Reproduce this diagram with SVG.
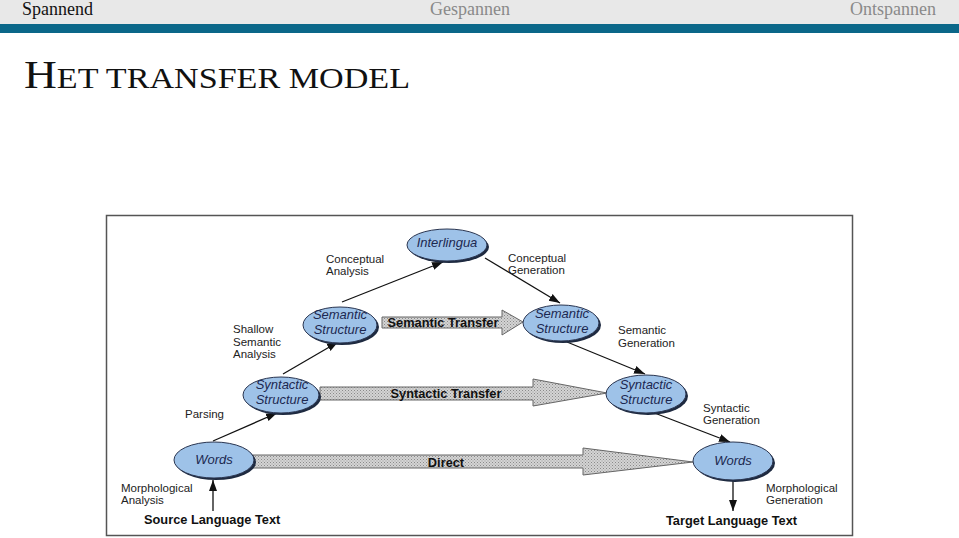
<svg xmlns="http://www.w3.org/2000/svg" width="959" height="538" viewBox="0 0 959 538">
<defs>
<pattern id="hatch" width="3" height="3" patternUnits="userSpaceOnUse">
<rect width="3" height="3" fill="#d4d4d4"/>
<rect width="1" height="1" fill="#8a8a8a"/>
<rect x="1.5" y="1.5" width="1" height="1" fill="#9a9a9a"/>
</pattern>
<marker id="arr" markerWidth="12" markerHeight="10" refX="11" refY="5" orient="auto" markerUnits="userSpaceOnUse">
<path d="M0,1 L11,5 L0,9 Z" fill="#111"/>
</marker>
</defs>
<style>
.hdr{font-family:"Liberation Serif",serif;font-size:18px}
.ttl{font-family:"Liberation Serif",serif;fill:#111}
.node ellipse.sh{fill:#1e2a40}
.node ellipse.fg{fill:#9ec2e8;stroke:#2a3550;stroke-width:1}
.node text{font-family:"Liberation Sans",Arial,sans-serif;font-style:italic;font-size:13px;fill:#1c2850;text-anchor:middle}
.lbl{font-family:"Liberation Sans",Arial,sans-serif;font-size:11.5px;fill:#222}
.bl{font-family:"Liberation Sans",Arial,sans-serif;font-size:12.8px;font-weight:bold;fill:#111}
.blk{fill:url(#hatch);stroke:#666;stroke-width:1}
.con{stroke:#111;stroke-width:1.3;fill:none;marker-end:url(#arr)}
</style>
<rect x="0" y="0" width="959" height="538" fill="#fff"/>
<rect x="0" y="0" width="959" height="24" fill="#e8e8e8"/>
<rect x="0" y="24" width="959" height="9" fill="#0b6789"/>
<text class="hdr" x="22" y="15" fill="#111">Spannend</text>
<text class="hdr" x="470" y="15" fill="#8a8a8a" text-anchor="middle">Gespannen</text>
<text class="hdr" x="936" y="15" fill="#8a8a8a" text-anchor="end">Ontspannen</text>
<text class="ttl" x="24" y="88" textLength="386" lengthAdjust="spacingAndGlyphs"><tspan font-size="40">H</tspan><tspan font-size="30">ET TRANSFER MODEL</tspan></text>

<rect x="106.5" y="215.5" width="746" height="320" fill="#fff" stroke="#555" stroke-width="1.5"/>

<g id="connectors">
<polygon class="blk" points="382,317 502,317 502,310 523,322 502,335 502,328 382,328"/>
<polygon class="blk" points="320,387 533,387 533,379 607,393 533,406 533,400 320,400"/>
<polygon class="blk" points="253,455 583,455 583,448 693,462 583,475 583,468 253,468"/>
<line class="con" x1="342" y1="302" x2="443" y2="262"/>
<line class="con" x1="485" y1="258" x2="560" y2="303"/>
<line class="con" x1="283" y1="374" x2="338" y2="342"/>
<line class="con" x1="567" y1="342" x2="645" y2="374"/>
<line class="con" x1="213" y1="441" x2="277" y2="413"/>
<line class="con" x1="652" y1="412" x2="730" y2="442"/>
<line class="con" x1="213" y1="511" x2="213" y2="480"/>
<line class="con" x1="733" y1="480" x2="733" y2="511"/>
</g>

<text class="bl" x="443" y="327" text-anchor="middle">Semantic Transfer</text>
<text class="bl" x="446" y="398" text-anchor="middle">Syntactic Transfer</text>
<text class="bl" x="446" y="467" text-anchor="middle">Direct</text>

<g id="interlingua" class="node">
<ellipse class="sh" cx="449" cy="247" rx="40" ry="16"/>
<ellipse class="fg" cx="447" cy="245" rx="40" ry="16"/>
<text x="447" y="247">Interlingua</text>
</g>
<g id="sem-src" class="node">
<ellipse class="sh" cx="342" cy="327" rx="37" ry="18"/>
<ellipse class="fg" cx="340" cy="325" rx="37" ry="18"/>
<text x="340" y="319">Semantic</text>
<text x="340" y="334">Structure</text>
</g>
<g id="syn-src" class="node">
<ellipse class="sh" cx="283" cy="397" rx="38" ry="18"/>
<ellipse class="fg" cx="281" cy="395" rx="38" ry="18"/>
<text x="282" y="389">Syntactic</text>
<text x="282" y="404">Structure</text>
</g>
<g id="words-src" class="node">
<ellipse class="sh" cx="216" cy="462" rx="40" ry="18"/>
<ellipse class="fg" cx="214" cy="460" rx="40" ry="18"/>
<text x="214" y="464">Words</text>
</g>
<g id="sem-tgt" class="node">
<ellipse class="sh" cx="563" cy="325" rx="38" ry="18"/>
<ellipse class="fg" cx="561" cy="323" rx="38" ry="18"/>
<text x="562" y="318">Semantic</text>
<text x="562" y="333">Structure</text>
</g>
<g id="syn-tgt" class="node">
<ellipse class="sh" cx="648" cy="396" rx="40" ry="19"/>
<ellipse class="fg" cx="646" cy="394" rx="40" ry="19"/>
<text x="646" y="389">Syntactic</text>
<text x="646" y="404">Structure</text>
</g>
<g id="words-tgt" class="node">
<ellipse class="sh" cx="735" cy="463" rx="40" ry="19"/>
<ellipse class="fg" cx="733" cy="461" rx="40" ry="19"/>
<text x="733" y="465">Words</text>
</g>

<text class="lbl" x="326" y="263">Conceptual</text>
<text class="lbl" x="326" y="275">Analysis</text>
<text class="lbl" x="508" y="262">Conceptual</text>
<text class="lbl" x="508" y="274">Generation</text>
<text class="lbl" x="233" y="333">Shallow</text>
<text class="lbl" x="233" y="346">Semantic</text>
<text class="lbl" x="233" y="358">Analysis</text>
<text class="lbl" x="618" y="334">Semantic</text>
<text class="lbl" x="618" y="347">Generation</text>
<text class="lbl" x="185" y="418">Parsing</text>
<text class="lbl" x="703" y="412">Syntactic</text>
<text class="lbl" x="703" y="424">Generation</text>
<text class="lbl" x="121" y="492">Morphological</text>
<text class="lbl" x="121" y="504">Analysis</text>
<text class="lbl" x="766" y="492">Morphological</text>
<text class="lbl" x="766" y="504">Generation</text>
<text class="bl" x="144" y="524" font-size="13.4">Source Language Text</text>
<text class="bl" x="666" y="525" font-size="13.4">Target Language Text</text>
</svg>
